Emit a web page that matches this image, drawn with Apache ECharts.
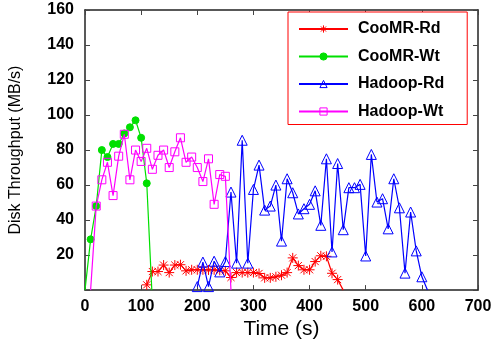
<!DOCTYPE html>
<html><head><meta charset="utf-8">
<script src="https://cdn.jsdelivr.net/npm/echarts@6/dist/echarts.min.js"></script>
<style>html,body{margin:0;padding:0;background:#fff}#c{width:495px;height:345px}</style>
</head><body><div id="c"></div>
<script>
// ---- data (time in s, throughput in MB/s) ----
const seriesNames = ['CooMR-Rd', 'CooMR-Wt', 'Hadoop-Rd', 'Hadoop-Wt'];

const coomrRdTime = [110,120,130,140,150,160,170,180,190,200,210,220,230,240,250,260,270,280,290,300,310,320,330,340,350,360,370,380,390,400,410,420,430,440,450,460];
const coomrRdVal  = [3,10.6,10.6,14.3,10,14.3,14.5,11,11.6,11.6,11.6,11.5,11.6,11.3,11,7.2,10,10,10,10,9.5,7,7,7.6,8.5,10,18.4,14,11.6,11.6,16.3,19.6,19.3,9.6,6,0];

const coomrWtTime = [0,10,20,30,40,50,60,70,80,90,100,110,119];
const coomrWtVal  = [0,29,48,80,76,83.5,83.5,89.5,93,97,87,61,0];

const hadoopRdTime = [200,210,220,230,240,250,260,270,280,290,300,310,320,330,340,350,360,370,380,390,400,410,420,430,440,450,460,470,480,490,500,510,520,530,540,550,560,570,580,590,600,610];
const hadoopRdVal  = [2,16,2,16.5,10.4,16.3,56,15.4,85.6,15.4,57.5,71.4,45.7,48,60,28,63.6,55.6,43.5,46.5,49,56.7,37,75,21.8,72.3,34.5,58.5,58.5,60.4,19.5,77.5,50.3,52.2,35,63.6,47,9.7,44.6,22.4,7.6,0];

const hadoopWtTime = [10,20,30,40,50,60,70,80,90,100,110,120,130,140,150,160,170,180,190,200,210,220,230,240,250,260];
const hadoopWtVal  = [0,48,63,73,54,76.5,89,63,80,73.5,81,69,77,80,70,79,87,73,76,70,62,75,49,66,65,0];

const xMin = 0, xMax = 700, xStep = 100;
const yMin = 0, yMax = 160, yStep = 20;

// ---- build ----
const FONT = 'Liberation Sans, Arial, Helvetica, sans-serif';
function pairs(ts, vs) {
  return ts.map((t, i) => vs[i] === 0 ? { value: [t, vs[i]], symbol: 'none' } : [t, vs[i]]);
}
const STAR = 'path://M0 10L20 10M10 0L10 20M2.9 2.9L17.1 17.1M2.9 17.1L17.1 2.9';

const styles = [
  { color: '#ff0000', symbol: STAR, size: 10, fill: 'rgba(0,0,0,0)' },
  { color: '#00e000', symbol: 'circle', size: 7, fill: '#00e000' },
  { color: '#0000ff', symbol: 'triangle', size: 10, fill: 'rgba(0,0,0,0)' },
  { color: '#ff00ff', symbol: 'rect', size: 8, fill: 'rgba(0,0,0,0)' }
];
const dataSets = [
  pairs(coomrRdTime, coomrRdVal),
  pairs(coomrWtTime, coomrWtVal),
  pairs(hadoopRdTime, hadoopRdVal),
  pairs(hadoopWtTime, hadoopWtVal)
];

const series = seriesNames.map((name, i) => ({
  name, type: 'line', xAxisIndex: 0, yAxisIndex: 0,
  data: dataSets[i],
  symbol: styles[i].symbol, symbolSize: styles[i].size,
  showAllSymbol: true,
  lineStyle: { color: styles[i].color, width: 1.2 },
  itemStyle: { color: styles[i].fill, borderColor: styles[i].color, borderWidth: 1 },
  emphasis: { disabled: true },
  z: 2 + i
}));

const tickStyle = { show: true, inside: true, length: 5, lineStyle: { color: '#444', width: 1 } };
const lineStyle = { show: true, onZero: false, lineStyle: { color: '#222', width: 1.5 } };

const chart = echarts.init(document.getElementById('c'), null, { renderer: 'canvas' });
chart.setOption({
  animation: false,
  backgroundColor: '#fff',
  grid: { left: 84, right: 17, top: 10, bottom: 54, containLabel: false },
  legend: {
    orient: 'vertical', left: 288, top: 12,
    data: seriesNames,
    backgroundColor: '#fff', borderColor: '#ff0000', borderWidth: 1,
    padding: [9, 23, 5, 10],
    itemWidth: 49, itemHeight: 9, itemGap: 11.5,
    itemStyle: { borderWidth: 1 },
    textStyle: { fontFamily: FONT, fontWeight: 'bold', fontSize: 16, color: '#000', lineHeight: 16, padding: [0, 0, 0, 5] },
    selectedMode: false, z: 10
  },
  xAxis: [
    { type: 'value', position: 'bottom', min: xMin, max: xMax, interval: xStep,
      name: 'Time (s)', nameLocation: 'middle', nameGap: 25,
      nameTextStyle: { fontFamily: FONT, fontSize: 21, color: '#000' },
      axisLine: lineStyle, axisTick: tickStyle, splitLine: { show: false },
      axisLabel: { fontFamily: FONT, fontWeight: 'bold', fontSize: 16, color: '#000', margin: 8 } },
    { type: 'value', position: 'top', min: xMin, max: xMax, interval: xStep,
      axisLine: lineStyle, axisTick: tickStyle, splitLine: { show: false }, axisLabel: { show: false } }
  ],
  yAxis: [
    { type: 'value', position: 'left', min: yMin, max: yMax, interval: yStep,
      name: 'Disk Throughput (MB/s)', nameLocation: 'middle', nameGap: 61,
      nameTextStyle: { fontFamily: FONT, fontSize: 16, color: '#000' },
      axisLine: lineStyle, axisTick: tickStyle, splitLine: { show: false },
      axisLabel: { fontFamily: FONT, fontWeight: 'bold', fontSize: 16, color: '#000', margin: 11,
        formatter: v => v === 0 ? '' : String(v) } },
    { type: 'value', position: 'right', min: yMin, max: yMax, interval: yStep,
      axisLine: lineStyle, axisTick: tickStyle, splitLine: { show: false }, axisLabel: { show: false } }
  ],
  series
});
</script>
</body></html>
